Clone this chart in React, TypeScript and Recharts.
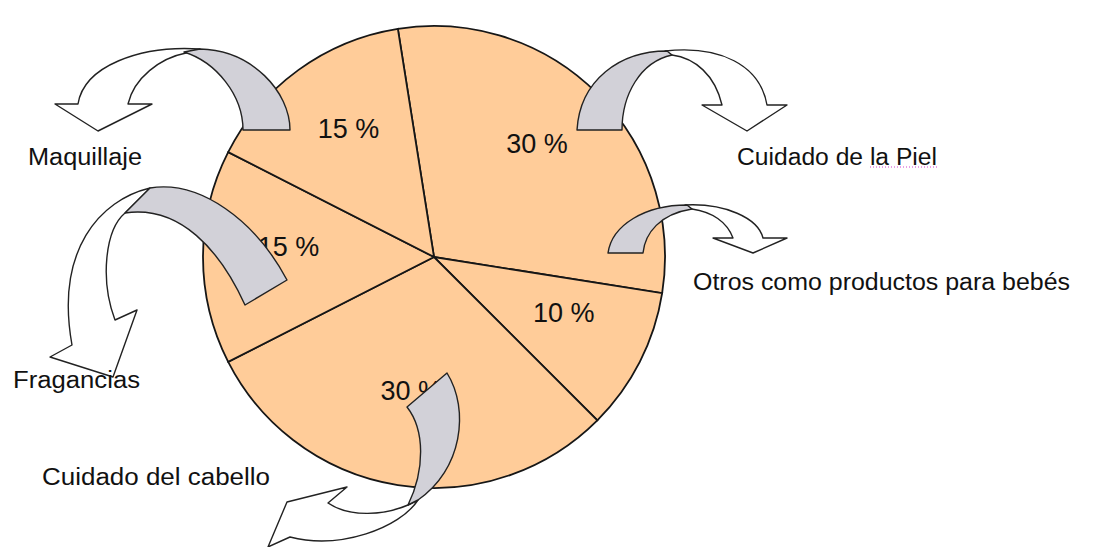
import React from 'react';
import { PieChart, Pie, Cell } from 'recharts';

// Market share by product category (labels)
const categories = [
  'Cuidado de la Piel',
  'Otros como productos para bebés',
  'Cuidado del cabello',
  'Fragancias',
  'Maquillaje',
];
const shares = [30, 10, 30, 15, 15];

const WIDTH = 1114;
const HEIGHT = 547;
const RADIAN = Math.PI / 180;

const chartData = categories.map((name, i) => ({ name, value: shares[i] }));

// Decorative curved arrows (annotation shapes, not data marks)
const arrows = [
  {
    gray: 'M 243 130 L 290 130 C 290 92, 252 50, 200 49 L 184 52 C 216 62, 243 95, 243 130 Z',
    white: 'M 200 49 C 140 45, 84 66, 78 104 L 55 104 L 98 131 L 152 104 L 128 104 C 134 78, 160 58, 186 53 Z',
  },
  {
    gray: 'M 577 130 L 622 130 C 622 95, 640 62, 672 55 L 667 51 C 620 51, 580 80, 577 130 Z',
    white: 'M 665 51 C 720 45, 760 65, 767 105 L 787 105 L 747 131 L 702 105 L 722 105 C 715 75, 695 58, 672 55 Z',
  },
  {
    gray: 'M 608 253 L 643 253 C 645 233, 660 214, 692 209 L 687 205 C 645 205, 612 225, 608 253 Z',
    white: 'M 685 205 C 725 203, 758 218, 763 238 L 787 238 L 753 253 L 713 238 L 733 238 C 727 222, 712 212, 692 209 Z',
  },
  {
    gray: 'M 287 280 C 255 220, 200 180, 150 188 L 125 213 C 180 205, 220 250, 245 305 Z',
    white: 'M 150 188 C 100 200, 55 250, 72 345 L 50 357 L 113 377 L 137 310 L 115 320 C 100 280, 105 230, 125 213 Z',
  },
  {
    gray: 'M 407 407 L 447 373 C 470 410, 462 470, 418 500 L 408 505 C 425 470, 425 430, 407 407 Z',
    white: 'M 328 503 C 350 518, 385 515, 408 505 L 418 500 C 400 528, 340 550, 290 537 L 268 547 L 287 502 L 347 487 Z',
  },
];

// Outside category captions: [text, x, baseline, width]
const captions: [string, number, number, number][] = [
  ['Maquillaje', 28, 165, 114],
  ['Cuidado de la Piel', 737, 165, 200],
  ['Otros como productos para bebés', 693, 290, 377],
  ['Fragancias', 13, 388, 127],
  ['Cuidado del cabello', 42, 485, 228],
];

const renderPercent = (props: any) => {
  const { cx, cy, midAngle, outerRadius, value } = props;
  const r = outerRadius * 0.63;
  const x = cx + r * Math.cos(-midAngle * RADIAN);
  const y = cy + r * Math.sin(-midAngle * RADIAN) - 10;
  return (
    <text
      x={x}
      y={y}
      textAnchor="middle"
      dominantBaseline="central"
      fill="#111"
      fontSize={27}
      fontFamily="'Liberation Sans', Arial, sans-serif"
    >
      {`${value} %`}
    </text>
  );
};

export default function App() {
  return (
    <div
      style={{
        position: 'relative',
        width: WIDTH,
        height: HEIGHT,
        margin: '-8px 0 0 -8px',
        background: '#fff',
      }}
    >
      <PieChart width={WIDTH} height={HEIGHT} margin={{ top: 0, right: 0, bottom: 0, left: 0 }}>
        <Pie
          data={chartData}
          dataKey="value"
          nameKey="name"
          cx={434}
          cy={257}
          outerRadius={231}
          startAngle={99}
          endAngle={-261}
          stroke="#161616"
          strokeWidth={1.8}
          label={renderPercent}
          labelLine={false}
          isAnimationActive={false}
        >
          {chartData.map((d) => (
            <Cell key={d.name} fill="#FFCC99" />
          ))}
        </Pie>
      </PieChart>
      <svg
        width={WIDTH}
        height={HEIGHT}
        style={{ position: 'absolute', left: 0, top: 0, pointerEvents: 'none' }}
      >
        {arrows.map((a, i) => (
          <g key={i} stroke="#222" strokeWidth={1.4} strokeLinejoin="round">
            <path d={a.white} fill="#fff" />
            <path d={a.gray} fill="#D2D1D8" />
          </g>
        ))}
        {captions.map(([t, x, y, w]) => (
          <text
            key={t}
            x={x}
            y={y}
            textLength={w}
            lengthAdjust="spacingAndGlyphs"
            fontSize={23}
            fill="#111"
            fontFamily="'Liberation Sans', Arial, sans-serif"
          >
            {t}
          </text>
        ))}
        <line x1={870} y1={167} x2={937} y2={167} stroke="#d040d0" strokeWidth={1} strokeDasharray="1 2" />
      </svg>
    </div>
  );
}
